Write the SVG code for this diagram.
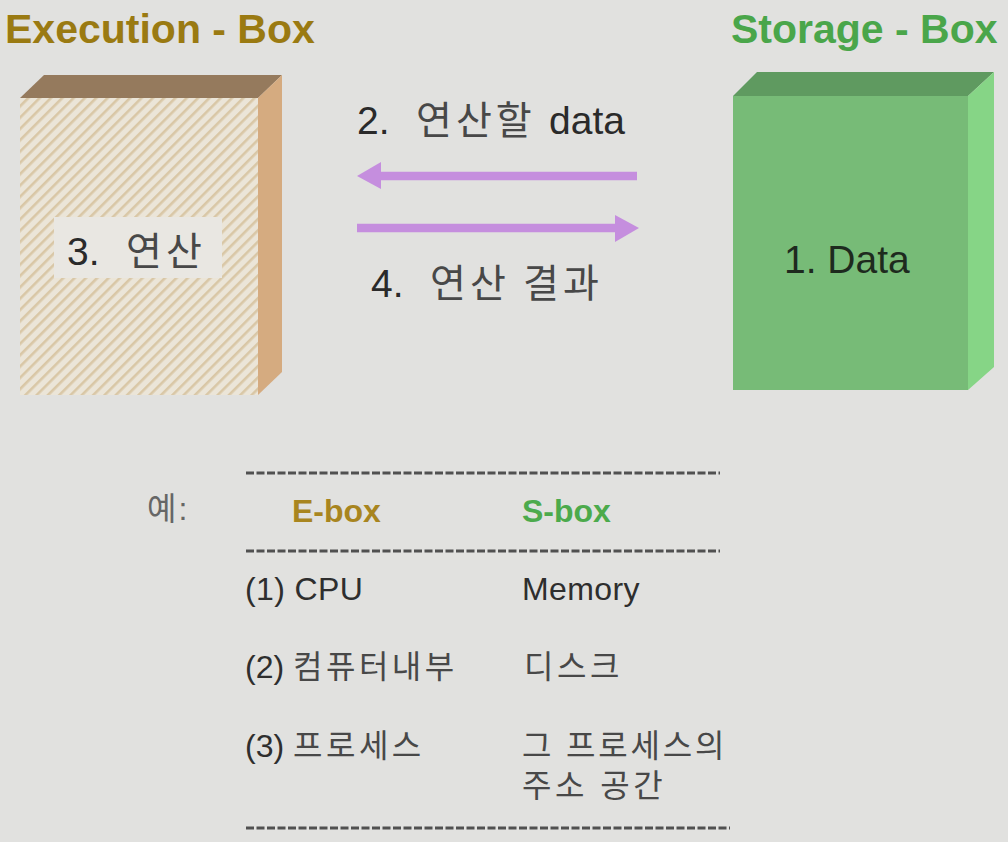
<svg xmlns="http://www.w3.org/2000/svg" width="1008" height="842" viewBox="0 0 1008 842">
<defs>
<pattern id="hatch" patternUnits="userSpaceOnUse" width="8" height="8" patternTransform="rotate(45)">
<rect width="8" height="8" fill="#ebe5d8"/>
<rect x="0" y="0" width="2.6" height="8" fill="#d9c7a6"/>
</pattern>
<style>
text{font-family:"Liberation Sans","Noto Sans CJK KR",Arial,sans-serif;}
.title{font-size:41px;font-weight:bold;}
.lbl{font-size:39px;fill:#2a2a2a;}
.ko{fill:#484848;letter-spacing:4px;}
.tb{font-size:32px;fill:#2e2e2e;}
.tko{fill:#484848;letter-spacing:3.5px;}
.hd{font-size:32px;font-weight:bold;}
.dash{stroke:#505050;stroke-width:3;stroke-dasharray:8 2.5;fill:none;}
.arrow{stroke:#c58ede;stroke-width:8.5;fill:none;}
</style>
</defs>
<rect width="1008" height="842" fill="#e1e1df"/>

<g id="execution-box">
<text class="title" x="5" y="43" fill="#9a7a12">Execution - Box</text>
<polygon points="20,98 44,75 282,75 258,98" fill="#957a5d"/>
<polygon points="258,98 282,75 282,372 258,395" fill="#d5ab80"/>
<rect x="20" y="98" width="238" height="297" fill="url(#hatch)"/>
<rect x="54" y="217" width="168" height="61" fill="#e9e7e2"/>
<text class="lbl" x="67" y="265">3.</text>
<text class="lbl ko" x="126" y="265">연산</text>
</g>

<g id="storage-box">
<text class="title" x="731" y="43" fill="#4aa64a">Storage - Box</text>
<polygon points="733,96 757,72 994,72 968,96" fill="#5f9a60"/>
<polygon points="968,96 994,72 994,367 968,390" fill="#86d586"/>
<rect x="733" y="96" width="235" height="294" fill="#77bb77"/>
<text class="lbl" x="784" y="273" style="fill:#1e2a1e">1. Data</text>
</g>

<g id="connectors">
<line class="arrow" x1="637" y1="176" x2="380" y2="176"/>
<polygon points="357,176 381,162 381,189" fill="#c58ede"/>
<line class="arrow" x1="357" y1="228" x2="616" y2="228"/>
<polygon points="639,228 615,215 615,242" fill="#c58ede"/>
</g>

<g id="label-data">
<text class="lbl" x="357" y="134">2.</text>
<text class="lbl ko" x="416" y="134" style="letter-spacing:4px">연산할</text>
<text class="lbl" x="549" y="134">data</text>
</g>
<g id="label-result">
<text class="lbl" x="371" y="297">4.</text>
<text class="lbl ko" x="430" y="297">연산</text>
<text class="lbl ko" x="523" y="297">결과</text>
</g>

<g id="example-table">
<line class="dash" x1="246" y1="473" x2="720" y2="473"/>
<text class="tb" x="147" y="520" style="fill:#666;letter-spacing:2px">예:</text>
<text class="hd" x="292" y="522" fill="#a8851f">E-box</text>
<text class="hd" x="522" y="522" fill="#4caa4c">S-box</text>
<line class="dash" x1="246" y1="551" x2="720" y2="551"/>
<text class="tb" x="245" y="600" style="letter-spacing:0.4px">(1) CPU</text>
<text class="tb" x="522" y="600" style="letter-spacing:0.4px">Memory</text>
<text class="tb" x="245" y="678">(2) <tspan class="tko">컴퓨터내부</tspan></text>
<text class="tb tko" x="524" y="678">디스크</text>
<text class="tb" x="245" y="757">(3) <tspan class="tko">프로세스</tspan></text>
<text class="tb tko" x="522" y="757" style="letter-spacing:2.8px">그 프로세스의</text>
<text class="tb tko" x="522" y="797">주소 공간</text>
<line class="dash" x1="246" y1="828" x2="730" y2="828"/>
</g>
</svg>
